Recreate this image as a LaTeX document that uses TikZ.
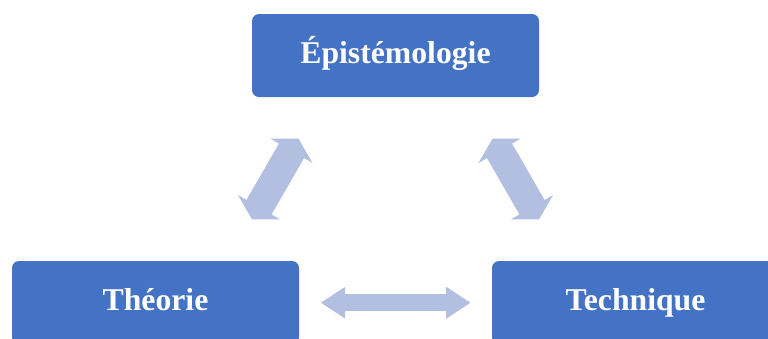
\documentclass[tikz,border=0pt]{standalone}
\usepackage{fontspec}
\setmainfont{Liberation Serif}
\usepackage{tikz}
\usetikzlibrary{arrows.meta, positioning, calc}
\definecolor{boxblue}{HTML}{4472C4}
\definecolor{linkblue}{HTML}{B2BFE0}

\begin{document}
\begin{tikzpicture}[x=1pt,y=-1pt,
    box/.style={rectangle, rounded corners=7pt, fill=boxblue, text=white,
        font=\fontsize{31.7}{38}\selectfont\bfseries, inner sep=0pt,
        minimum width=287pt, minimum height=83pt, text height=23pt, text depth=8pt},
    link/.style={draw=linkblue, line width=16.5pt,
        {Triangle[length=24.5pt,width=30pt]}-{Triangle[length=24.5pt,width=30pt]}},
    slant/.style={draw=linkblue, line width=29pt,
        {Triangle[length=14pt,width=48pt]}-{Triangle[length=14pt,width=48pt]}}]
    \useasboundingbox (0,0) rectangle (768,338);
    \clip (0,0) rectangle (768,338);

    \node[box] (E) at (395.5,55.5) {Épistémologie};
    \node[box] (T) at (155.5,302.5) {Théorie};
    \node[box] (K) at (635.5,302.5) {Technique};

    \coordinate (ET1) at (298.5,138.7);
    \coordinate (ET2) at (252,219.3);
    \coordinate (EK1) at (492.5,138.7);
    \coordinate (EK2) at (539,219.3);
    \coordinate (TK1) at (320.7,302.7);
    \coordinate (TK2) at (470.7,302.7);

    \draw[slant] (ET1) -- (ET2);
    \draw[slant] (EK1) -- (EK2);
    \draw[link] (TK1) -- (TK2);
\end{tikzpicture}
\end{document}
